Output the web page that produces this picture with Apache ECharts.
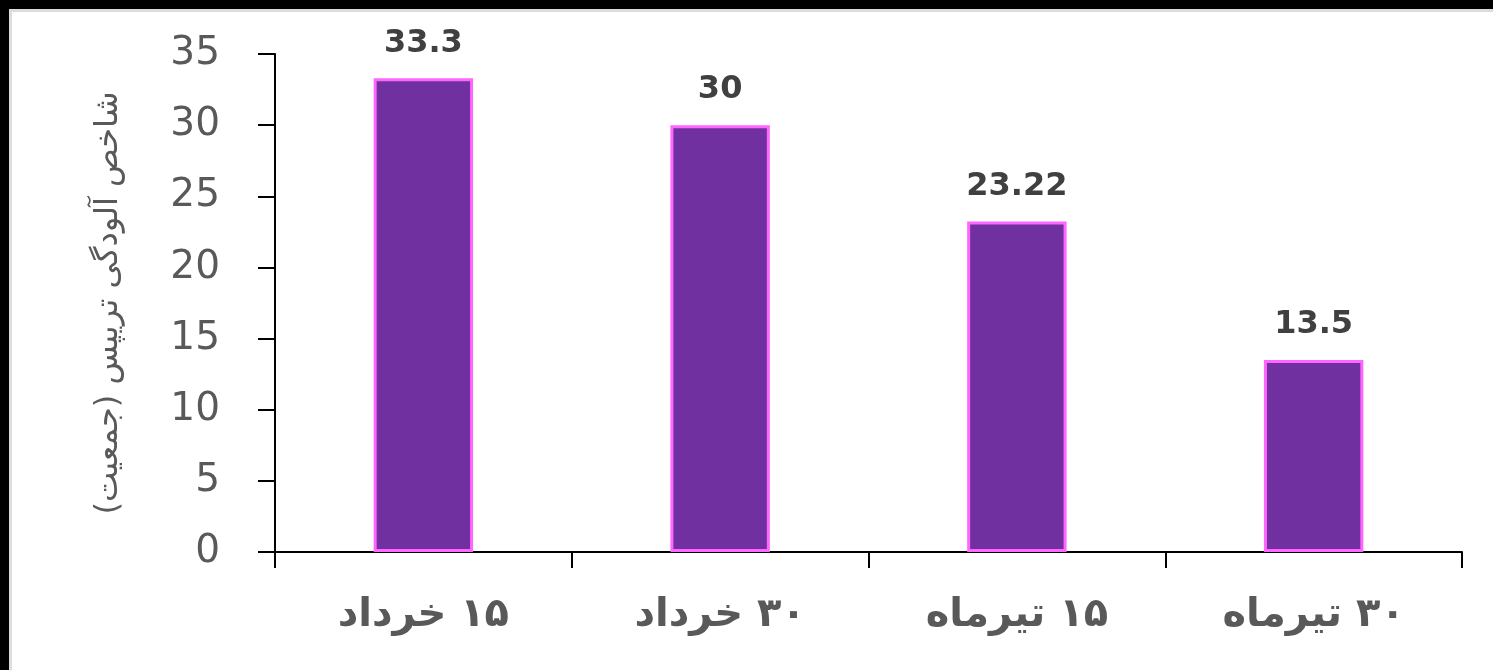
<!DOCTYPE html>
<html>
<head>
<meta charset="utf-8">
<script src="https://cdn.jsdelivr.net/npm/echarts@6/dist/echarts.min.js"></script>
<style>
  html, body { margin: 0; padding: 0; background: #fff; }
  #chart { position: absolute; left: 0; top: 0; width: 1493px; height: 670px; }
  .bt { position: absolute; left: 0; top: 0; width: 1493px; height: 9px; background: #000; }
  .bl { position: absolute; left: 0; top: 0; width: 9px; height: 670px; background: #000; }
  .gt { position: absolute; left: 9px; top: 9px; width: 1484px; height: 3px; background: #dcdcdc; }
  .gl { position: absolute; left: 9px; top: 9px; width: 3px; height: 661px; background: #dcdcdc; }
</style>
</head>
<body>
<div id="chart"></div>
<div class="gt"></div><div class="gl"></div>
<div class="bt"></div><div class="bl"></div>
<script>
const categories = ['۱۵ خرداد', '۳۰ خرداد', '۱۵ تیرماه', '۳۰ تیرماه'];
const values = [33.3, 30, 23.22, 13.5];
const valueLabels = ['33.3', '30', '23.22', '13.5'];
const yAxisTitle = 'شاخص آلودگی تریپس (جمعیت)';

const RLM = '\u200F';
const rtl = s => RLM + s + RLM;

const chart = echarts.init(document.getElementById('chart'), null, { renderer: 'canvas' });
chart.setOption({
  animation: false,
  backgroundColor: '#ffffff',
  grid: { left: 275, right: 31, top: 54, bottom: 118, containLabel: false },
  xAxis: {
    type: 'category',
    data: categories,
    axisLine: { lineStyle: { color: '#000', width: 2 } },
    axisTick: { show: true, length: 16, lineStyle: { color: '#000', width: 2 } },
    axisLabel: {
      color: '#595959', fontSize: 40, fontWeight: 'bold', fontFamily: 'DejaVu Sans', margin: 44,
      formatter: v => rtl(v)
    }
  },
  yAxis: {
    type: 'value',
    min: 0, max: 35, interval: 5,
    name: rtl(yAxisTitle),
    nameLocation: 'middle',
    nameRotate: 90,
    nameGap: 150,
    nameTextStyle: { color: '#595959', fontSize: 32, fontFamily: 'DejaVu Sans' },
    axisLine: { show: true, lineStyle: { color: '#000', width: 2 } },
    axisTick: { show: true, length: 17, lineStyle: { color: '#000', width: 2 } },
    splitLine: { show: false },
    axisLabel: { color: '#595959', fontSize: 39, fontFamily: 'DejaVu Sans', margin: 55 }
  },
  series: [{
    type: 'bar',
    data: values,
    barWidth: '33.5%',
    itemStyle: { color: '#7030A0', borderColor: '#FF66FF', borderWidth: 3 },
    label: {
      show: true,
      position: 'top',
      distance: 19,
      color: '#404040',
      fontSize: 32,
      fontWeight: 'bold',
      fontFamily: 'DejaVu Sans',
      formatter: p => valueLabels[p.dataIndex]
    }
  }]
});
</script>
</body>
</html>
